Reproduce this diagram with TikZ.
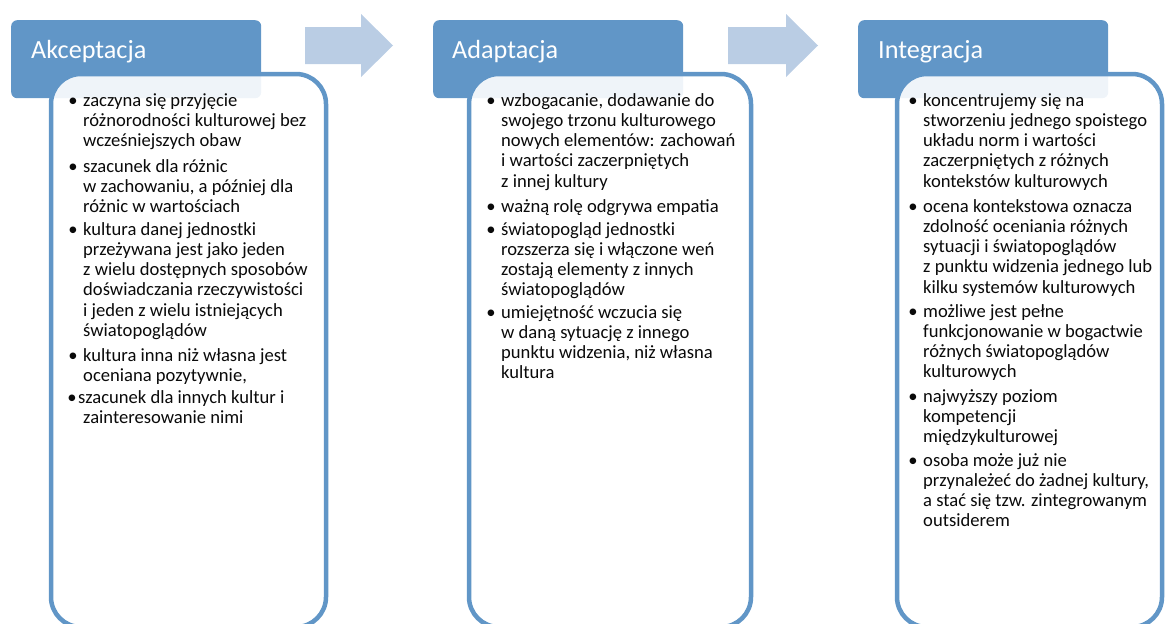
\documentclass[tikz,border=0pt]{standalone}
\usepackage{fontspec}
\setmainfont{Carlito}
\definecolor{hdrblue}{RGB}{97,150,199}
\definecolor{arrowblue}{RGB}{186,205,228}
\definecolor{bodytext}{RGB}{10,10,10}
\begin{document}
\begin{tikzpicture}[x=1pt,y=-1pt,
  header/.style={fill=hdrblue, rounded corners=6pt, inner sep=0pt, anchor=north west},
  headtitle/.style={anchor=base west, inner sep=0pt, text=white, font=\fontsize{26.2}{30}\selectfont},
  body/.style={draw=hdrblue, line width=4.5pt, fill=white, fill opacity=0.9, rounded corners=30pt},
  flow/.style={fill=arrowblue},
  dot/.style={anchor=base, inner sep=0pt, text=bodytext, font=\fontsize{18.6}{20.3}\selectfont},
  item/.style={anchor=base west, inner sep=0pt, text=bodytext, font=\fontsize{18.6}{20.3}\selectfont},
]
\useasboundingbox (0,0) rectangle (1165,624);

% stage headers
\node[header, minimum width=250pt, minimum height=78pt] (h1) at (11,20) {};
\node[header, minimum width=250pt, minimum height=78pt] (h2) at (433,20) {};
\node[header, minimum width=250pt, minimum height=78pt] (h3) at (858,20) {};

% block arrows between the stages
\fill[flow] (305,27) -- (361,27) -- (361,14) -- (393,45.5) -- (361,77) -- (361,64) -- (305,64) -- cycle;
\fill[flow] (728,27) -- (786,27) -- (786,14) -- (818,45.5) -- (786,77) -- (786,64) -- (728,64) -- cycle;

% content panels (drawn over the lower part of each header)
\path[body] (51,74) rectangle (326,627);
\path[body] (469,74) rectangle (751,627);
\path[body] (897,74) rectangle (1162,627);

% header titles
\node[headtitle] (t1) at (31,58) {Akceptacja};
\node[headtitle] (t2) at (452,58) {Adaptacja};
\node[headtitle] (t3) at (878,58) {Integracja};

% --- Akceptacja ---
\node[dot] (a1d) at (73,106) {•};
\node[item] (a1) at (83,106) {\parbox[t]{240pt}{\raggedright zaczyna się przyjęcie\\różnorodności kulturowej bez\\wcześniejszych obaw}};
\node[dot] (a2d) at (73,172) {•};
\node[item] (a2) at (83,172) {\parbox[t]{240pt}{\raggedright szacunek dla różnic\\w zachowaniu, a później dla\\różnic w wartościach}};
\node[dot] (a3d) at (73,235) {•};
\node[item] (a3) at (83,235) {\parbox[t]{240pt}{\raggedright kultura danej jednostki\\przeżywana jest jako jeden\\z wielu dostępnych sposobów\\doświadczania rzeczywistości\\i jeden z wielu istniejących\\światopoglądów}};
\node[dot] (a4d) at (73,361) {•};
\node[item] (a4) at (83,361) {\parbox[t]{240pt}{\raggedright kultura inna niż własna jest\\oceniana pozytywnie,}};
\node[dot] (a5d) at (72,403) {•};
\node[item] (a5) at (78,403) {\parbox[t]{245pt}{\raggedright szacunek dla innych kultur i\\\hspace*{5pt}zainteresowanie nimi}};

% --- Adaptacja ---
\node[dot] (b1d) at (491,106) {•};
\node[item] (b1) at (501,106) {\parbox[t]{245pt}{\raggedright wzbogacanie, dodawanie do\\swojego trzonu kulturowego\\nowych elementów: zachowań\\i wartości zaczerpniętych\\z innej kultury}};
\node[dot] (b2d) at (491,212) {•};
\node[item] (b2) at (501,212) {\parbox[t]{245pt}{\raggedright ważną rolę odgrywa empatia}};
\node[dot] (b3d) at (491,235) {•};
\node[item] (b3) at (501,235) {\parbox[t]{245pt}{\raggedright światopogląd jednostki\\rozszerza się i włączone weń\\zostają elementy z innych\\światopoglądów}};
\node[dot] (b4d) at (491,318) {•};
\node[item] (b4) at (501,318) {\parbox[t]{245pt}{\raggedright umiejętność wczucia się\\w daną sytuację z innego\\punktu widzenia, niż własna\\kultura}};

% --- Integracja ---
\node[dot] (c1d) at (913,106) {•};
\node[item] (c1) at (923,106) {\parbox[t]{235pt}{\raggedright koncentrujemy się na\\stworzeniu jednego spoistego\\układu norm i wartości\\zaczerpniętych z różnych\\kontekstów kulturowych}};
\node[dot] (c2d) at (913,212) {•};
\node[item] (c2) at (923,212) {\parbox[t]{235pt}{\raggedright ocena kontekstowa oznacza\\zdolność oceniania różnych\\sytuacji i światopoglądów\\z punktu widzenia jednego lub\\kilku systemów kulturowych}};
\node[dot] (c3d) at (913,317) {•};
\node[item] (c3) at (923,317) {\parbox[t]{235pt}{\raggedright możliwe jest pełne\\funkcjonowanie w bogactwie\\różnych światopoglądów\\kulturowych}};
\node[dot] (c4d) at (913,402) {•};
\node[item] (c4) at (923,402) {\parbox[t]{235pt}{\raggedright najwyższy poziom\\kompetencji\\międzykulturowej}};
\node[dot] (c5d) at (913,466) {•};
\node[item] (c5) at (923,466) {\parbox[t]{235pt}{\raggedright osoba może już nie\\przynależeć do żadnej kultury,\\a stać się tzw. zintegrowanym\\outsiderem}};
\end{tikzpicture}
\end{document}
